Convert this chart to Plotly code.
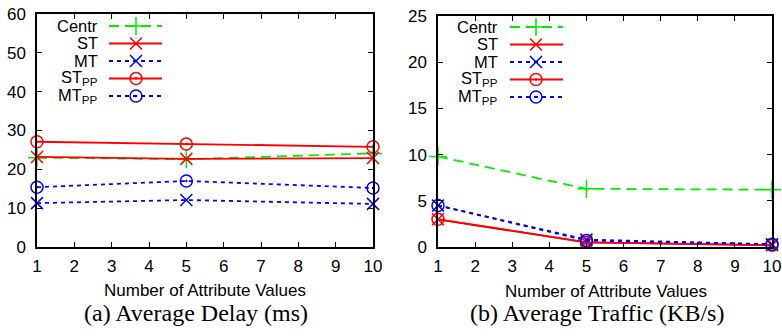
import plotly.graph_objects as go

W, H = 782, 336

# ---------------- data ----------------
attr_values = [1, 5, 10]
series_names = ["Centr", "ST", "MT", "ST<sub>PP</sub>", "MT<sub>PP</sub>"]

delay_centr = [23.0, 22.6, 24.1]
delay_st = [23.2, 22.7, 22.9]
delay_mt = [11.3, 12.1, 11.1]
delay_st_pp = [27.1, 26.5, 25.8]
delay_mt_pp = [15.4, 17.0, 15.2]

traffic_centr = [9.8, 6.3, 6.2]
traffic_st = [3.0, 0.5, 0.2]
traffic_mt = [4.5, 0.8, 0.3]
traffic_st_pp = [3.0, 0.5, 0.2]
traffic_mt_pp = [4.5, 0.7, 0.3]

delay_ticks = [0, 10, 20, 30, 40, 50, 60]
traffic_ticks = [0, 5, 10, 15, 20, 25]
x_ticks = list(range(1, 11))

# ---------------- styles ----------------
GREEN, RED, BLUE = "#00ee00", "#ff0000", "#0000ff"
styles = [
    dict(color=GREEN, dash="10px,6px", symbol="cross-thin-open", size=13),
    dict(color=RED, dash="solid", symbol="x-thin-open", size=12),
    dict(color=BLUE, dash="4px,4px", symbol="x-thin-open", size=12),
    dict(color=RED, dash="solid", symbol="circle-open-dot", size=12),
    dict(color=BLUE, dash="4px,4px", symbol="circle-open-dot", size=12),
]
SANS = "Liberation Sans, Arial, sans-serif"
SERIF = "Liberation Serif, Times New Roman, serif"
FS = 17

# panel pixel boxes (left, top, right, bottom)
boxes = [(37, 14, 373, 247), (438, 16, 772, 247)]


def px(x):
    return x / W


def py(y):
    return 1 - y / H


fig = go.Figure()

panels = [
    [delay_centr, delay_st, delay_mt, delay_st_pp, delay_mt_pp],
    [traffic_centr, traffic_st, traffic_mt, traffic_st_pp, traffic_mt_pp],
]
for p, data in enumerate(panels):
    xa = "x" if p == 0 else "x2"
    ya = "y" if p == 0 else "y2"
    for name, vals, st in zip(series_names, data, styles):
        fig.add_trace(go.Scatter(
            x=attr_values, y=vals, xaxis=xa, yaxis=ya, mode="lines+markers",
            name=name, showlegend=False, hoverinfo="skip", cliponaxis=False,
            line=dict(color=st["color"], width=1.8, dash=st["dash"]),
            marker=dict(symbol=st["symbol"], size=st["size"],
                        color=st["color"], line=dict(color=st["color"], width=1.5)),
        ))

# ---------------- manual gnuplot-style legends ----------------
legend_geom = [
    dict(text_r=99, l0=109, l1=162, m=136, rows=[26, 43.5, 61, 78.5, 96]),
    dict(text_r=499, l0=510, l1=563, m=536, rows=[27, 44.5, 62, 79.5, 97]),
]
annotations = []
for p, g in enumerate(legend_geom):
    L, T, R, B = boxes[p]
    xa = "x3" if p == 0 else "x4"
    ya = "y3" if p == 0 else "y4"
    fx = lambda x: (x - L) / (R - L)
    fy = lambda y: (B - y) / (B - T)
    for name, st, row in zip(series_names, styles, g["rows"]):
        fig.add_trace(go.Scatter(
            x=[fx(g["l0"]), fx(g["l1"])], y=[fy(row), fy(row)], xaxis=xa, yaxis=ya,
            mode="lines", showlegend=False, hoverinfo="skip",
            line=dict(color=st["color"], width=1.8, dash=st["dash"]),
        ))
        fig.add_trace(go.Scatter(
            x=[fx(g["m"])], y=[fy(row)], xaxis=xa, yaxis=ya,
            mode="markers", showlegend=False, hoverinfo="skip",
            marker=dict(symbol=st["symbol"], size=st["size"], color=st["color"],
                        line=dict(color=st["color"], width=1.5)),
        ))
        annotations.append(dict(
            x=px(g["text_r"]), y=py(row), xref="paper", yref="paper",
            xanchor="right", yanchor="middle", text=name, showarrow=False,
            borderpad=0,
            font=dict(family=SANS, size=16.5, color="black"),
        ))

# axis titles and captions
for cx, cy, txt in [(205, 290, "Number of Attribute Values"),
                    (606, 291, "Number of Attribute Values")]:
    annotations.append(dict(x=px(cx), y=py(cy), xref="paper", yref="paper",
                            xanchor="center", yanchor="middle", text=txt, showarrow=False,
                            borderpad=0,
                            font=dict(family=SANS, size=FS, color="black")))
for cx, cy, txt in [(196, 313, "(a) Average Delay (ms)"),
                    (597, 313, "(b) Average Traffic (KB/s)")]:
    annotations.append(dict(x=px(cx), y=py(cy), xref="paper", yref="paper",
                            xanchor="center", yanchor="middle", text=txt, showarrow=False,
                            borderpad=0,
                            font=dict(family=SERIF, size=24, color="black")))


def xaxis(box):
    L, T, R, B = box
    return dict(domain=[px(L), px(R)], range=[1, 10], tickvals=x_ticks,
                showline=True, linecolor="black", linewidth=1.5, mirror="ticks",
                ticks="inside", ticklen=5, tickcolor="black", tickwidth=1,
                showgrid=False, zeroline=False, automargin=False,
                tickfont=dict(family=SANS, size=FS, color="black"),
                ticklabelstandoff=3)


def yaxis(box, rng, ticks):
    L, T, R, B = box
    return dict(domain=[py(B), py(T)], range=rng, tickvals=ticks,
                showline=True, linecolor="black", linewidth=1.5, mirror="ticks",
                ticks="inside", ticklen=5, tickcolor="black", tickwidth=1,
                showgrid=False, zeroline=False, automargin=False,
                tickfont=dict(family=SANS, size=FS, color="black"),
                ticklabelstandoff=6)


hidden = dict(visible=False, range=[0, 1], showgrid=False, zeroline=False)

fig.update_layout(
    width=W, height=H, margin=dict(l=0, r=0, t=0, b=0),
    paper_bgcolor="white", plot_bgcolor="white", showlegend=False,
    xaxis=dict(xaxis(boxes[0]), anchor="y"),
    yaxis=dict(yaxis(boxes[0], [0, 60], delay_ticks), anchor="x"),
    xaxis2=dict(xaxis(boxes[1]), anchor="y2"),
    yaxis2=dict(yaxis(boxes[1], [0, 25], traffic_ticks), anchor="x2"),
    xaxis3=dict(hidden, overlaying="x", anchor="y3"),
    yaxis3=dict(hidden, overlaying="y", anchor="x3"),
    xaxis4=dict(hidden, overlaying="x2", anchor="y4"),
    yaxis4=dict(hidden, overlaying="y2", anchor="x4"),
    annotations=annotations,
)

fig.write_html("out.html")
